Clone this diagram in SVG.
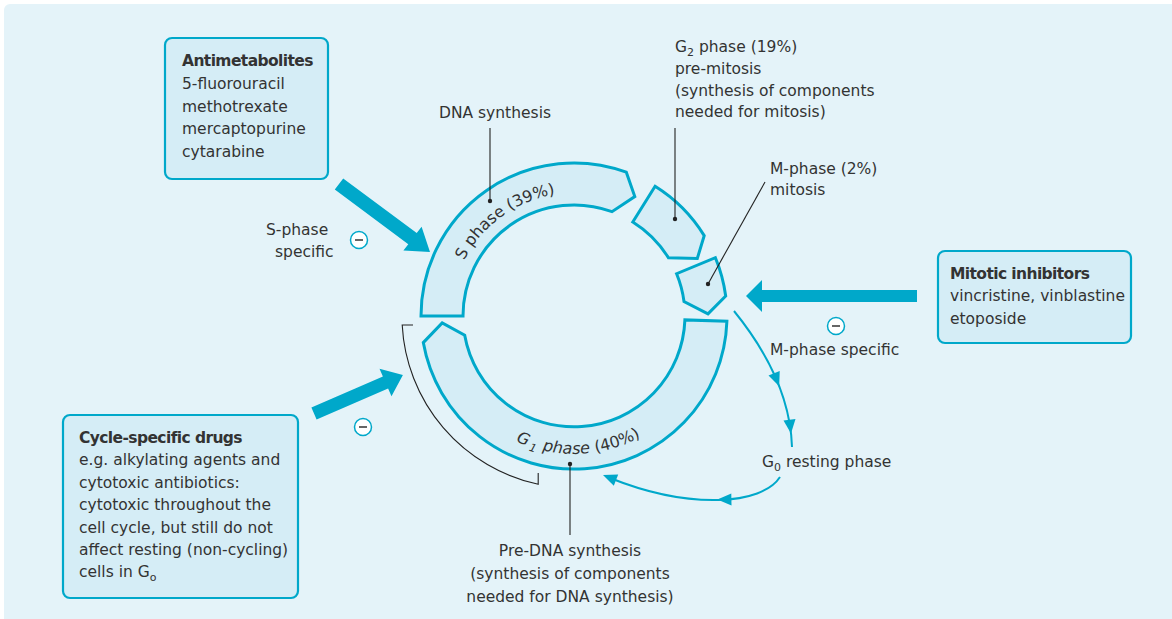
<svg xmlns="http://www.w3.org/2000/svg" width="1172" height="619" viewBox="0 0 1172 619">
<defs>
<style>
.bg{fill:#e4f3f9}
.box{fill:#d5edf6;stroke:#00a8ca;stroke-width:2.2}
.seg{fill:#d5edf6;stroke:#00a8ca;stroke-width:3;stroke-linejoin:miter}
.arrow{fill:#00a8ca}
.tl{fill:none;stroke:#00a8ca;stroke-width:2}
.lead{fill:none;stroke:#222;stroke-width:1.1}
.dot{fill:#222}
.t{font-family:"DejaVu Sans","Liberation Sans",sans-serif;font-size:15.5px;fill:#333}
.b{font-weight:bold;letter-spacing:-0.6px}
.mc{fill:#fff;stroke:#00a8ca;stroke-width:1.5}
.ml{stroke:#333;stroke-width:1.5}
</style>
</defs>
<rect class="bg" x="4" y="4" width="1180" height="630" rx="6"/>

<g id="cycle">
<path id="s-phase" class="seg" d="M 421 316 A 153 153 0 0 1 626.3 172.2 L 634.8 196.6 L 612.0 211.7 A 111 111 0 0 0 463 316 Z"/>
<path id="g2-phase" class="seg" d="M 655.1 186.3 A 153 153 0 0 1 704.2 235.6 L 697.3 258.5 L 668.4 257.7 A 111 111 0 0 0 632.8 221.9 Z"/>
<path id="m-phase" class="seg" d="M 715.4 257.7 A 153 153 0 0 1 725.7 296.0 L 708.0 313.9 L 684.0 301.5 A 111 111 0 0 0 676.6 273.7 Z"/>
<path id="g1-phase" class="seg" d="M 726.9 321.3 A 153 153 0 0 1 423.3 342.6 L 442.2 322.9 L 464.7 335.3 A 111 111 0 0 0 684.9 319.9 Z"/>
<path id="sTextPath" d="M 451.3 307.4 A 123 123 0 0 1 603.8 196.7" fill="none"/>
<path id="gTextPath" d="M 457.0 389.1 A 138 138 0 0 0 695.8 380.8" fill="none"/>
<text class="t" style="font-size:16px"><textPath href="#sTextPath" startOffset="50%" text-anchor="middle">S phase (39%)</textPath></text>
<text class="t" style="font-size:16px;font-style:italic"><textPath href="#gTextPath" startOffset="50%" text-anchor="middle">G<tspan font-size="11px" dy="4" dx="2.5">1</tspan><tspan dy="-4" dx="1"> phase</tspan><tspan font-style="normal"> (40%)</tspan></textPath></text>
</g>

<g id="connectors">
<path class="lead" d="M 490 128 L 490 201"/>
<circle class="dot" cx="490" cy="201" r="2.2"/>
<path class="lead" d="M 675 128 L 675 219"/>
<circle class="dot" cx="675" cy="219" r="2.2"/>
<path class="lead" d="M 765 182 L 708 284"/>
<circle class="dot" cx="708" cy="284" r="2.2"/>
<path class="lead" d="M 570 464 L 570 535"/>
<circle class="dot" cx="570" cy="464" r="2.2"/>
<path class="lead" d="M 413 325 L 402.2 325 A 172 172 0 0 0 538.2 484.2 L 538.2 473"/>
<polygon class="arrow" points="343.2,178.4 416.7,233.0 421.6,226.7 430,252 403.4,250.5 408.3,244.2 334.8,189.6"/>
<polygon class="arrow" points="917,290 762,290 762,280 746,296 762,312 762,302 917,302"/>
<polygon class="arrow" points="311.4,407.5 382.9,376.5 379.5,368.7 402.9,375 391.5,396.3 388.1,388.5 316.6,419.5"/>
<path class="tl" d="M 734 311 Q 790 380 792 447"/>
<polygon class="arrow" points="779.2,386.3 768.5,375.5 779.7,371.1"/>
<polygon class="arrow" points="791.0,433.6 783.5,420.4 795.5,419.0"/>
<path class="tl" d="M 780 477 C 762 505 690 510 610 478"/>
<polygon class="arrow" points="717.4,499.6 731.3,493.4 731.5,505.4"/>
<polygon class="arrow" points="603,475 618.2,474.6 613.8,485.8"/>
</g>

<g id="antimetabolites">
<rect class="box" x="165" y="38" width="163" height="141" rx="7"/>
<text class="t" x="182" y="66"><tspan class="b">Antimetabolites</tspan><tspan x="182" y="89">5-fluorouracil</tspan><tspan x="182" y="111.5">methotrexate</tspan><tspan x="182" y="134">mercaptopurine</tspan><tspan x="182" y="156.5">cytarabine</tspan></text>
</g>

<g id="mitotic-inhibitors">
<rect class="box" x="938" y="251" width="193" height="92" rx="7"/>
<text class="t" x="950" y="278.5"><tspan class="b">Mitotic inhibitors</tspan><tspan x="950" y="301">vincristine, vinblastine</tspan><tspan x="950" y="323.5">etoposide</tspan></text>
</g>

<g id="cycle-specific">
<rect class="box" x="63" y="415" width="235" height="183" rx="7"/>
<text class="t" x="79" y="442.5"><tspan class="b">Cycle-specific drugs</tspan><tspan x="79" y="465">e.g. alkylating agents and</tspan><tspan x="79" y="487.5">cytotoxic antibiotics:</tspan><tspan x="79" y="510">cytotoxic throughout the</tspan><tspan x="79" y="532.5">cell cycle, but still do not</tspan><tspan x="79" y="555">affect resting (non-cycling)</tspan><tspan x="79" y="577">cells in G</tspan><tspan font-size="11px" dy="4">o</tspan></text>
</g>

<g id="labels">
<text class="t" x="495" y="118" text-anchor="middle">DNA synthesis</text>
<text class="t" x="675" y="52">G<tspan font-size="11px" dy="4">2</tspan><tspan dy="-4"> phase (19%)</tspan><tspan x="675" y="73.5">pre-mitosis</tspan><tspan x="675" y="95.5">(synthesis of components</tspan><tspan x="675" y="117">needed for mitosis)</tspan></text>
<text class="t" x="770" y="173.5">M-phase (2%)<tspan x="770" y="195">mitosis</tspan></text>
<text class="t" x="266" y="235">S-phase<tspan x="275" y="256.5">specific</tspan></text>
<text class="t" x="770" y="355">M-phase specific</text>
<text class="t" x="762" y="467">G<tspan font-size="11px" dy="4">0</tspan><tspan dy="-4"> resting phase</tspan></text>
<text class="t" x="570" y="556" text-anchor="middle">Pre-DNA synthesis<tspan x="570" y="579">(synthesis of components</tspan><tspan x="570" y="601.5">needed for DNA synthesis)</tspan></text>
</g>

<g id="minus-signs">
<circle class="mc" cx="359" cy="240" r="8.5"/><line class="ml" x1="355" y1="240" x2="363" y2="240"/>
<circle class="mc" cx="363" cy="427" r="8.5"/><line class="ml" x1="359" y1="427" x2="367" y2="427"/>
<circle class="mc" cx="836" cy="326" r="8.5"/><line class="ml" x1="832" y1="326" x2="840" y2="326"/>
</g>
</svg>
